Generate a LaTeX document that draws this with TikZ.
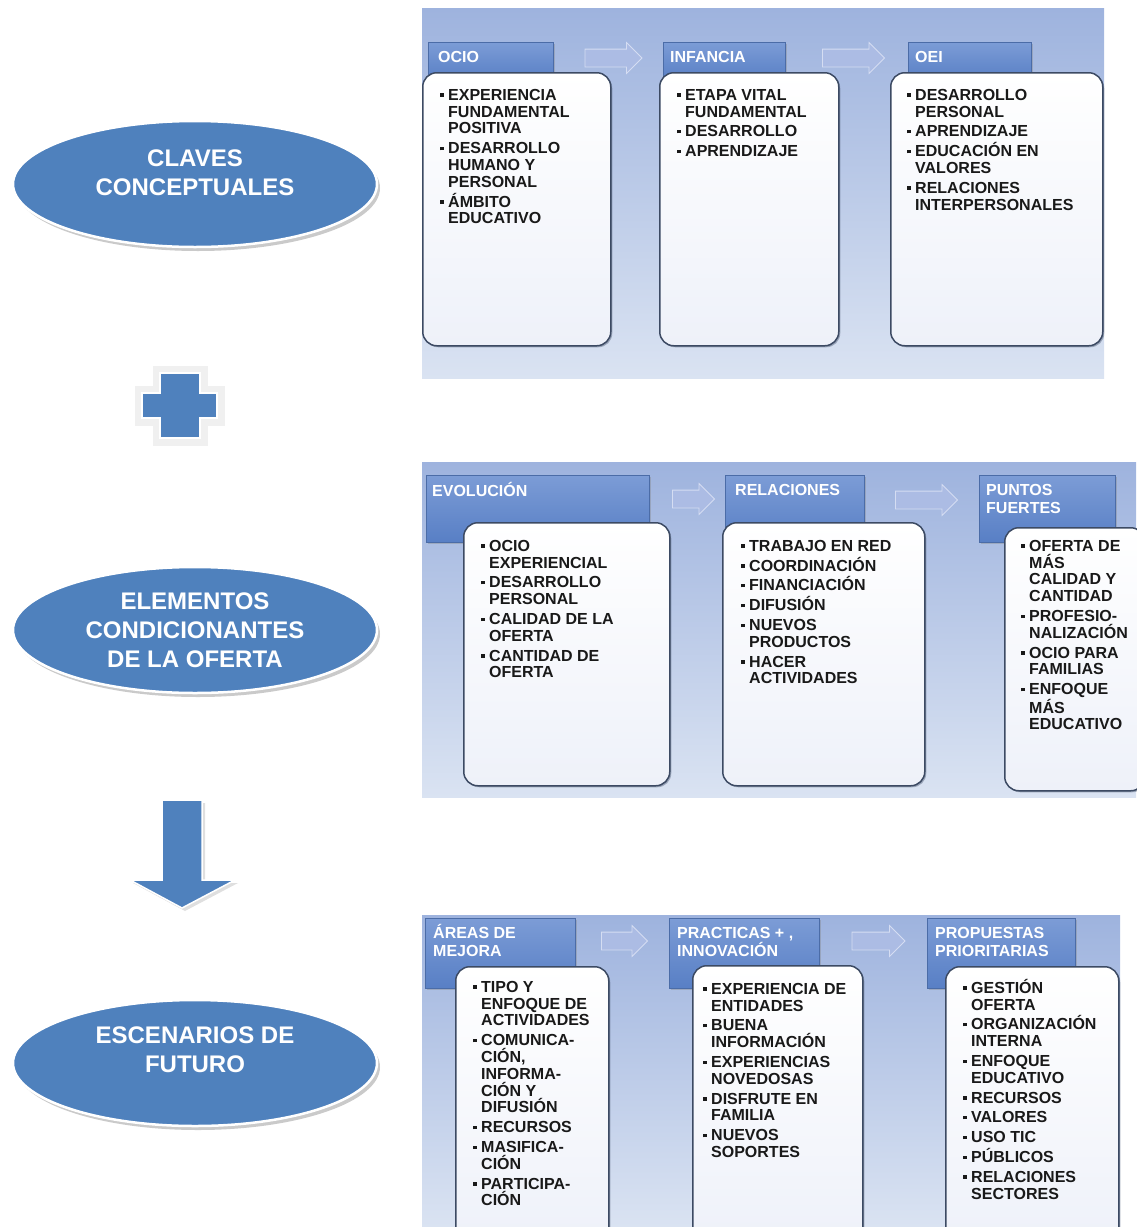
\documentclass[tikz,border=0pt]{standalone}
\usepackage{fontspec}
\setmainfont{Liberation Sans}
\usepackage{xcolor}
\definecolor{KeyBlue}{RGB}{79,129,189}
\definecolor{PanelTop}{RGB}{158,179,222}
\definecolor{PanelBot}{RGB}{218,227,242}
\definecolor{TabTop}{RGB}{124,156,214}
\definecolor{TabBot}{RGB}{88,127,197}
\definecolor{BoxLine}{RGB}{60,74,99}
\definecolor{BoxFill}{RGB}{238,241,249}
\definecolor{StepArrow}{RGB}{172,188,228}
\usetikzlibrary{positioning, shapes.geometric, shapes.arrows, shadows}

\newcommand{\bul}{\makebox[8pt][l]{\rule[3.5pt]{3.5pt}{3.5pt}}}
\newcommand{\ind}{\hspace*{8pt}}

\begin{document}
\begin{tikzpicture}[
    x=1pt, y=-1pt,
    every node/.style={font=\bfseries},
    panel/.style={rectangle, anchor=north west, inner sep=0pt, top color=PanelTop, bottom color=PanelBot},
    tabhead/.style={rectangle, anchor=north west, inner sep=0pt, top color=TabTop, bottom color=TabBot,
        draw=TabBot!85!black, line width=0.4pt,
        drop shadow={shadow xshift=2pt, shadow yshift=-2pt, opacity=0.35}},
    tablabel/.style={anchor=north west, inner sep=0pt, text=white, align=left,
        font=\fontsize{16}{18}\selectfont\bfseries},
    itembox/.style={rectangle, rounded corners=14pt, anchor=north west, inner sep=0pt,
        draw=BoxLine, line width=1.5pt, top color=white, bottom color=BoxFill,
        drop shadow={shadow xshift=1.5pt, shadow yshift=-1.5pt, opacity=0.4, fill=BoxLine}},
    items/.style={anchor=north west, inner sep=0pt, align=left, text=black!90,
        font=\fontsize{16}{16.8}\selectfont\bfseries},
    steparrow/.style={single arrow, draw=StepArrow!50!white, fill=StepArrow, line width=0.8pt,
        inner sep=8.5pt, single arrow head extend=6.5pt},
    keyellipse/.style={ellipse, minimum width=364pt, minimum height=126pt, fill=KeyBlue,
        draw=white, line width=2.5pt,
        drop shadow={shadow xshift=3pt, shadow yshift=-4pt, opacity=0.35, fill=black!60}},
    keytext/.style={text=white, align=center, inner sep=0pt, font=\fontsize{24}{29}\selectfont\bfseries},
    bigsymbol/.style={fill=KeyBlue, draw=white, line width=1.5pt, line join=miter},
]
\useasboundingbox (0,0) rectangle (1136,1227);

% Left column
\node[keyellipse, label={[keytext, yshift=11pt]center:{CLAVES\\CONCEPTUALES}}] (claves) at (195,184) {};
\node[keyellipse, label={[keytext]center:{ELEMENTOS\\CONDICIONANTES\\DE LA OFERTA}}] (elementos) at (195,630) {};
\node[keyellipse, label={[keytext, yshift=13pt]center:{ESCENARIOS DE\\FUTURO}}] (escenarios) at (195,1063) {};

% Plus sign
\draw[bigsymbol, preaction={draw=black!6, line width=15pt}]
    (160,373) -- (200,373) -- (200,393) -- (217,393) -- (217,418) -- (200,418) -- (200,438)
    -- (160,438) -- (160,418) -- (142,418) -- (142,393) -- (160,393) -- cycle;

% Down arrow
\draw[bigsymbol, drop shadow={shadow xshift=3pt, shadow yshift=-3pt, opacity=0.25}]
    (162,800) -- (202,800) -- (202,880) -- (235,880) -- (182,908) -- (130,880) -- (162,880) -- cycle;

% Panel 1
\node[panel, minimum width=682pt, minimum height=370pt] (panelA) at (422,8) {};
\node[tabhead, minimum width=125pt, minimum height=38pt,
    label={[tablabel, xshift=10pt, yshift=-9pt]north west:OCIO}] (tabOcio) at (428,42) {};
\node[tabhead, minimum width=122pt, minimum height=38pt,
    label={[tablabel, xshift=7pt, yshift=-9pt]north west:INFANCIA}] (tabInfancia) at (663,42) {};
\node[tabhead, minimum width=123pt, minimum height=38pt,
    label={[tablabel, xshift=7pt, yshift=-9pt]north west:OEI}] (tabOei) at (908,42) {};
\node[steparrow, minimum height=57pt] (arrA1) at (609,58) {};
\node[steparrow, minimum height=62pt] (arrA2) at (849,58) {};

\node[itembox, minimum width=188pt, minimum height=273pt,
    label={[items, xshift=18pt, yshift=-17pt]north west:{\bul EXPERIENCIA\\ \ind FUNDAMENTAL\\ \ind POSITIVA\\[3pt]
        \bul DESARROLLO\\ \ind HUMANO Y\\ \ind PERSONAL\\[3pt] \bul ÁMBITO\\ \ind EDUCATIVO}}] (boxOcio) at (422,72) {};
\node[itembox, minimum width=179pt, minimum height=273pt,
    label={[items, xshift=18pt, yshift=-17pt]north west:{\bul ETAPA VITAL\\ \ind FUNDAMENTAL\\[3pt]
        \bul DESARROLLO\\[3pt] \bul APRENDIZAJE}}] (boxInfancia) at (659,72) {};
\node[itembox, minimum width=212pt, minimum height=273pt,
    label={[items, xshift=17pt, yshift=-17pt]north west:{\bul DESARROLLO\\ \ind PERSONAL\\[3pt] \bul APRENDIZAJE\\[3pt]
        \bul EDUCACIÓN EN\\ \ind VALORES\\[3pt] \bul RELACIONES\\ \ind INTERPERSONALES}}] (boxOei) at (890,72) {};

% Panel 2
\node[panel, minimum width=714pt, minimum height=335pt] (panelB) at (422,462) {};
\node[tabhead, minimum width=223pt, minimum height=67pt,
    label={[tablabel, xshift=6pt, yshift=-7pt]north west:EVOLUCIÓN}] (tabEvol) at (426,475) {};
\node[tabhead, minimum width=139pt, minimum height=67pt,
    label={[tablabel, xshift=10pt, yshift=-9pt]north west:RELACIONES}] (tabRelac) at (725,475) {};
\node[tabhead, minimum width=136pt, minimum height=67pt,
    label={[tablabel, xshift=7pt, yshift=-9pt]north west:{PUNTOS\\FUERTES}}] (tabPuntos) at (979,475) {};
\node[steparrow, minimum height=42pt] (arrB1) at (689,499) {};
\node[steparrow, minimum height=62pt] (arrB2) at (922,500) {};

\node[itembox, minimum width=206pt, minimum height=263pt,
    label={[items, xshift=18pt, yshift=-18pt]north west:{\bul OCIO\\ \ind EXPERIENCIAL\\[3pt] \bul DESARROLLO\\ \ind PERSONAL\\[3pt]
        \bul CALIDAD DE LA\\ \ind OFERTA\\[3pt] \bul CANTIDAD DE\\ \ind OFERTA}}] (boxEvol) at (463,522) {};
\node[itembox, minimum width=202pt, minimum height=263pt,
    label={[items, xshift=19pt, yshift=-18pt]north west:{\bul TRABAJO EN RED\\[3pt] \bul COORDINACIÓN\\[3pt] \bul FINANCIACIÓN\\[3pt]
        \bul DIFUSIÓN\\[3pt] \bul NUEVOS\\ \ind PRODUCTOS\\[3pt] \bul HACER\\ \ind ACTIVIDADES}}] (boxRelac) at (722,522) {};
\node[itembox, minimum width=140pt, minimum height=263pt,
    label={[items, xshift=17pt, yshift=-13pt]north west:{\bul OFERTA DE\\ \ind MÁS\\ \ind CALIDAD Y\\ \ind CANTIDAD\\[3pt]
        \bul PROFESIO-\\ \ind NALIZACIÓN\\[3pt] \bul OCIO PARA\\ \ind FAMILIAS\\[3pt] \bul ENFOQUE\\ \ind MÁS\\ \ind EDUCATIVO}}] (boxPuntos) at (1004,527) {};

% Panel 3
\node[panel, minimum width=698pt, minimum height=312pt] (panelC) at (422,915) {};
\node[tabhead, minimum width=150pt, minimum height=70pt,
    label={[tablabel, xshift=8pt, yshift=-6pt]north west:{ÁREAS DE\\MEJORA}}] (tabAreas) at (425,918) {};
\node[tabhead, minimum width=150pt, minimum height=70pt,
    label={[tablabel, xshift=8pt, yshift=-9pt]north west:{PRACTICAS + ,\\INNOVACIÓN}}] (tabPract) at (669,918) {};
\node[tabhead, minimum width=148pt, minimum height=70pt,
    label={[tablabel, xshift=8pt, yshift=-9pt]north west:{PROPUESTAS\\PRIORITARIAS}}] (tabProp) at (927,918) {};
\node[steparrow, minimum height=46pt] (arrC1) at (620,941) {};
\node[steparrow, minimum height=53pt] (arrC2) at (874,941) {};

\node[itembox, minimum width=153pt, minimum height=280pt,
    label={[items, xshift=18pt, yshift=-15pt]north west:{\bul TIPO Y\\ \ind ENFOQUE DE\\ \ind ACTIVIDADES\\[3pt]
        \bul COMUNICA-\\ \ind CIÓN,\\ \ind INFORMA-\\ \ind CIÓN Y\\ \ind DIFUSIÓN\\[3pt] \bul RECURSOS\\[3pt]
        \bul MASIFICA-\\ \ind CIÓN\\[3pt] \bul PARTICIPA-\\ \ind CIÓN}}] (boxAreas) at (455,966) {};
\node[itembox, minimum width=170pt, minimum height=280pt,
    label={[items, xshift=11pt, yshift=-18pt]north west:{\bul EXPERIENCIA DE\\ \ind ENTIDADES\\[3pt] \bul BUENA\\ \ind INFORMACIÓN\\[3pt]
        \bul EXPERIENCIAS\\ \ind NOVEDOSAS\\[3pt] \bul DISFRUTE EN\\ \ind FAMILIA\\[3pt] \bul NUEVOS\\ \ind SOPORTES}}] (boxPract) at (692,965) {};
\node[itembox, minimum width=173pt, minimum height=280pt,
    label={[items, xshift=18pt, yshift=-13pt]north west:{\bul GESTIÓN\\ \ind OFERTA\\[3pt] \bul ORGANIZACIÓN\\ \ind INTERNA\\[3pt]
        \bul ENFOQUE\\ \ind EDUCATIVO\\[3pt] \bul RECURSOS\\[3pt] \bul VALORES\\[3pt] \bul USO TIC\\[3pt] \bul PÚBLICOS\\[3pt]
        \bul RELACIONES\\ \ind SECTORES}}] (boxProp) at (945,966) {};

\end{tikzpicture}
\end{document}
